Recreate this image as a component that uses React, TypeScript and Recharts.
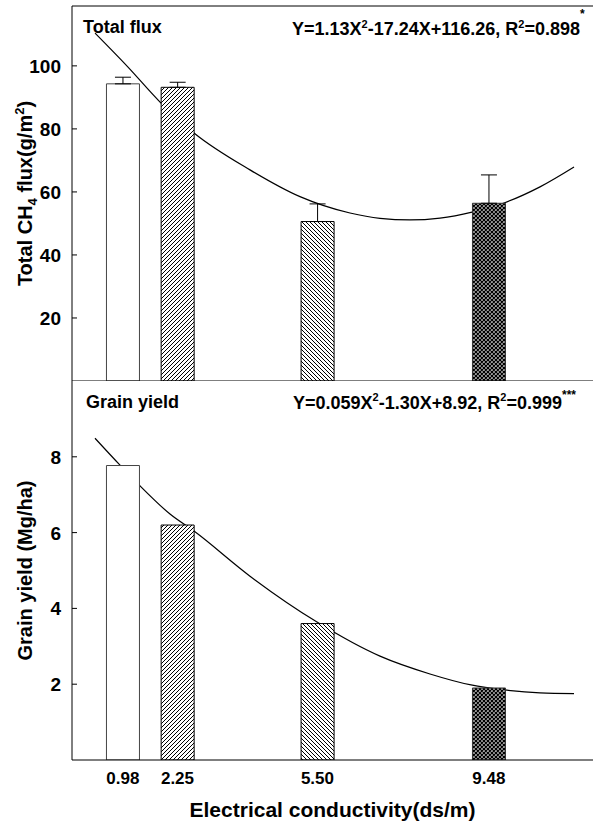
import React from 'react';
import {
  ComposedChart,
  LineChart,
  Line,
  Bar,
  Cell,
  XAxis,
  YAxis,
  ErrorBar,
  ReferenceLine,
} from 'recharts';

// ---------- data ----------
const ecValues = [0.98, 2.25, 5.5, 9.48];
const ecLabels = ['0.98', '2.25', '5.50', '9.48'];

const fluxMeans = [94.3, 93.2, 50.6, 56.4];
const fluxErrors = [2.1, 1.6, 5.6, 9.0];
const yieldMeans = [7.77, 6.2, 3.6, 1.9];

const fluxTicks = [20, 40, 60, 80, 100];
const yieldTicks = [2, 4, 6, 8];

// fitted curves, points
const fluxCurveX = [0.334, 1.101, 1.867, 2.633, 3.934, 5.095, 6.256, 6.953, 7.65, 8.347, 9.09, 9.833, 10.669, 11.459];
const fluxCurveY = [110.4, 99.6, 88.2, 78.7, 67.0, 58.5, 53.3, 51.6, 51.1, 51.7, 53.6, 56.5, 61.6, 67.9];
const yieldCurveX = [0.334, 0.915, 1.356, 2.076, 2.633, 3.934, 5.49, 6.953, 8.114, 9.067, 9.833, 10.669, 11.459];
const yieldCurveY = [8.49, 7.78, 7.26, 6.49, 6.04, 4.85, 3.64, 2.74, 2.27, 1.98, 1.85, 1.77, 1.75];

// ---------- derived tables ----------
const fluxData = ecValues.map((x, i) => ({ x, v: fluxMeans[i], err: [0, fluxErrors[i]] }));
const yieldData = ecValues.map((x, i) => ({ x, v: yieldMeans[i] }));
const fluxCurve = fluxCurveX.map((x, i) => ({ x, y: fluxCurveY[i] }));
const yieldCurve = yieldCurveX.map((x, i) => ({ x, y: yieldCurveY[i] }));

const X_DOMAIN: [number, number] = [-0.2, 11.9];
const FLUX_DOMAIN: [number, number] = [0, 119];
const YIELD_DOMAIN: [number, number] = [0, 10];

const FONT = '"Liberation Sans", Arial, Helvetica, sans-serif';
const W = 593;
const LEFT = 72;
const TOP_H = 381;
const BOT_H = 442;

const barFills = ['#ffffff', 'url(#hatchFwd)', 'url(#hatchBack)', 'url(#crossHatch)'];
const barStrokes = ['#444444', '#000000', '#000000', '#333333'];

// ---------- custom pieces ----------
const YTick = (props: any) => {
  const { x, y, payload } = props;
  return (
    <g>
      <line x1={x + 11} x2={x + 16} y1={y} y2={y} stroke="#000" strokeWidth={1} />
      <text x={x} y={y} dy={7} textAnchor="end" fontFamily={FONT} fontWeight="bold" fontSize={19} fill="#000">
        {payload.value}
      </text>
    </g>
  );
};

const XTick = (props: any) => {
  const { x, y, payload } = props;
  const idx = ecValues.indexOf(payload.value);
  return (
    <text x={x} y={y} dy={12} textAnchor="middle" fontFamily={FONT} fontWeight="bold" fontSize={17} fill="#000">
      {idx >= 0 ? ecLabels[idx] : payload.value}
    </text>
  );
};

const FluxTitle = (props: any) => {
  const vb = props.viewBox || { x: 0, y: 6, width: LEFT, height: 375 };
  const cx = vb.x + 32;
  const cy = vb.y + vb.height / 2;
  return (
    <text x={cx} y={cy} transform={`rotate(-90, ${cx}, ${cy})`} textAnchor="middle" fontFamily={FONT} fontWeight="bold" fontSize={20} fill="#000">
      Total CH<tspan dy={5} fontSize={13}>4</tspan>
      <tspan dy={-5}> flux(g/m</tspan>
      <tspan dy={-8} fontSize={13}>2</tspan>
      <tspan dy={8}>)</tspan>
    </text>
  );
};

const YieldTitle = (props: any) => {
  const vb = props.viewBox || { x: 0, y: 0, width: LEFT, height: 379 };
  const cx = vb.x + 32;
  const cy = vb.y + vb.height / 2;
  return (
    <text x={cx} y={cy} transform={`rotate(-90, ${cx}, ${cy})`} textAnchor="middle" fontFamily={FONT} fontWeight="bold" fontSize={20} fill="#000">
      Grain yield (Mg/ha)
    </text>
  );
};

const XTitle = (props: any) => {
  const vb = props.viewBox || { x: LEFT, y: 379, width: W - LEFT, height: 63 };
  return (
    <text x={vb.x + vb.width / 2} y={vb.y + 57} textAnchor="middle" fontFamily={FONT} fontWeight="bold" fontSize={21} fill="#000">
      Electrical conductivity(ds/m)
    </text>
  );
};

const TopNotes = (props: any) => {
  const vb = props.viewBox || { x: LEFT, y: 6 };
  const x0 = vb.x;
  const y0 = vb.y;
  return (
    <g fontFamily={FONT} fontWeight="bold" fill="#000">
      <text x={x0 + 11} y={y0 + 27} fontSize={18}>Total flux</text>
      <text x={x0 + 220} y={y0 + 29} fontSize={18}>
        Y=1.13X<tspan dy={-7} fontSize={11}>2</tspan>
        <tspan dy={7}>-17.24X+116.26, R</tspan>
        <tspan dy={-7} fontSize={11}>2</tspan>
        <tspan dy={7}>=0.898</tspan>
        <tspan dy={-17} fontSize={12}>*</tspan>
      </text>
    </g>
  );
};

const BottomNotes = (props: any) => {
  const vb = props.viewBox || { x: LEFT, y: 0 };
  const x0 = vb.x;
  const y0 = vb.y;
  return (
    <g fontFamily={FONT} fontWeight="bold" fill="#000">
      <text x={x0 + 14} y={y0 + 27} fontSize={18}>Grain yield</text>
      <text x={x0 + 221} y={y0 + 28} fontSize={18}>
        Y=0.059X<tspan dy={-8} fontSize={11}>2</tspan>
        <tspan dy={8}>-1.30X+8.92, R</tspan>
        <tspan dy={-8} fontSize={11}>2</tspan>
        <tspan dy={8}>=0.999</tspan>
        <tspan dy={-10} fontSize={12}>***</tspan>
      </text>
    </g>
  );
};

const Patterns = () => (
  <svg width={0} height={0} style={{ position: 'absolute', left: 0, top: 0 }}>
    <defs>
      <pattern id="hatchFwd" patternUnits="userSpaceOnUse" width={4} height={4}>
        <rect width={4} height={4} fill="#fff" />
        <path d="M-1,1 L1,-1 M0,4 L4,0 M3,5 L5,3" stroke="#000" strokeWidth={1} />
      </pattern>
      <pattern id="hatchBack" patternUnits="userSpaceOnUse" width={4} height={4}>
        <rect width={4} height={4} fill="#fff" />
        <path d="M-1,3 L1,5 M0,0 L4,4 M3,-1 L5,1" stroke="#000" strokeWidth={1} />
      </pattern>
      <pattern id="crossHatch" patternUnits="userSpaceOnUse" width={4} height={4}>
        <rect width={4} height={4} fill="#fff" />
        <path d="M-1,1 L1,-1 M0,4 L4,0 M3,5 L5,3 M-1,3 L1,5 M0,0 L4,4 M3,-1 L5,1" stroke="#000" strokeWidth={1.4} />
      </pattern>
    </defs>
  </svg>
);

export default function App() {
  return (
    <div style={{ position: 'absolute', left: 0, top: 0, width: W, height: 823, background: '#fff' }}>
      <Patterns />

      {/* top panel: fitted curve (behind bars) */}
      <div style={{ position: 'absolute', left: 0, top: 0 }}>
        <LineChart width={W} height={TOP_H} data={fluxCurve} margin={{ top: 6, right: 0, bottom: 0, left: LEFT }}>
          <XAxis dataKey="x" type="number" domain={X_DOMAIN} allowDataOverflow hide />
          <YAxis type="number" domain={FLUX_DOMAIN} allowDataOverflow hide />
          <Line dataKey="y" type="monotone" dot={false} stroke="#000" strokeWidth={1.2} isAnimationActive={false} />
        </LineChart>
      </div>

      {/* top panel: bars and axes */}
      <div style={{ position: 'absolute', left: 0, top: 0 }}>
        <ComposedChart width={W} height={TOP_H} data={fluxData} margin={{ top: 6, right: 0, bottom: 0, left: 0 }}>
          <XAxis dataKey="x" type="number" domain={X_DOMAIN} allowDataOverflow hide />
          <YAxis
            type="number"
            domain={FLUX_DOMAIN}
            allowDataOverflow
            ticks={fluxTicks}
            interval={0}
            width={LEFT}
            tickSize={6}
            tickMargin={5}
            tickLine={false}
            tick={<YTick />}
            axisLine={{ stroke: '#000', strokeWidth: 1 }}
            label={<FluxTitle />}
          />
          <ReferenceLine y={119} stroke="#000" strokeWidth={1} label={<TopNotes />} />
          <ReferenceLine y={0} stroke="#000" strokeWidth={1.2} />
          <Bar dataKey="v" barSize={33} isAnimationActive={false} strokeWidth={1}>
            {fluxData.map((d, i) => (
              <Cell key={i} fill={barFills[i]} stroke={barStrokes[i]} />
            ))}
            <ErrorBar dataKey="err" width={8} stroke="#000" strokeWidth={1} direction="y" />
          </Bar>
        </ComposedChart>
      </div>

      {/* bottom panel: fitted curve (behind bars) */}
      <div style={{ position: 'absolute', left: 0, top: TOP_H }}>
        <LineChart width={W} height={BOT_H} data={yieldCurve} margin={{ top: 0, right: 0, bottom: 63, left: LEFT }}>
          <XAxis dataKey="x" type="number" domain={X_DOMAIN} allowDataOverflow hide />
          <YAxis type="number" domain={YIELD_DOMAIN} allowDataOverflow hide />
          <Line dataKey="y" type="monotone" dot={false} stroke="#000" strokeWidth={1.2} isAnimationActive={false} />
        </LineChart>
      </div>

      {/* bottom panel: bars and axes */}
      <div style={{ position: 'absolute', left: 0, top: TOP_H }}>
        <ComposedChart width={W} height={BOT_H} data={yieldData} margin={{ top: 0, right: 0, bottom: 0, left: 0 }}>
          <XAxis
            dataKey="x"
            type="number"
            domain={X_DOMAIN}
            allowDataOverflow
            ticks={ecValues}
            interval={0}
            height={63}
            tickSize={0}
            tickMargin={12}
            tickLine={false}
            tick={<XTick />}
            axisLine={{ stroke: '#000', strokeWidth: 1.2 }}
            label={<XTitle />}
          />
          <YAxis
            type="number"
            domain={YIELD_DOMAIN}
            allowDataOverflow
            ticks={yieldTicks}
            interval={0}
            width={LEFT}
            tickSize={6}
            tickMargin={5}
            tickLine={false}
            tick={<YTick />}
            axisLine={{ stroke: '#000', strokeWidth: 1 }}
            label={<YieldTitle />}
          />
          <ReferenceLine y={10} stroke="none" label={<BottomNotes />} />
          <Bar dataKey="v" barSize={33} isAnimationActive={false} strokeWidth={1}>
            {yieldData.map((d, i) => (
              <Cell key={i} fill={barFills[i]} stroke={barStrokes[i]} />
            ))}
          </Bar>
        </ComposedChart>
      </div>
    </div>
  );
}
